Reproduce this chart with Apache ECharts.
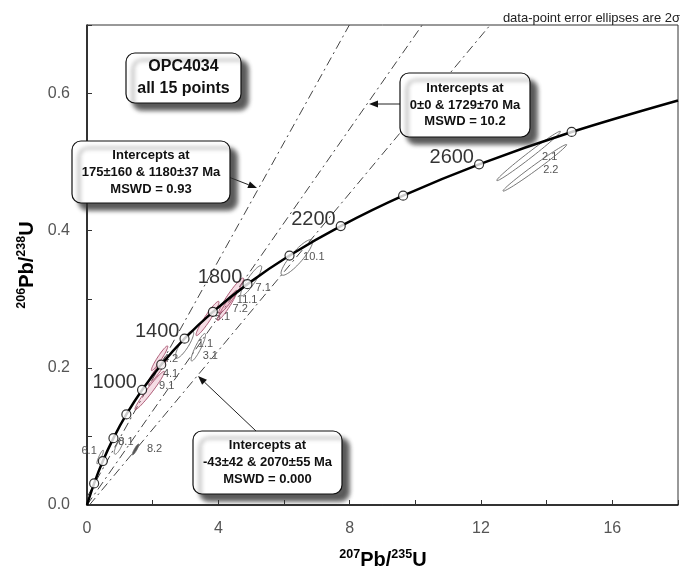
<!DOCTYPE html>
<html><head><meta charset="utf-8">
<script src="https://cdn.jsdelivr.net/npm/echarts@6/dist/echarts.min.js"></script>
<style>html,body{margin:0;padding:0;background:#fff}#c{width:681px;height:571px}</style>
</head><body><div id="c"></div>
<script>
// Concordia curve (age in Ma, 207Pb/235U, 206Pb/238U)
const concordiaAges = [0, 200, 400, 600, 800, 1000, 1200, 1400, 1600, 1800, 2000, 2200, 2400, 2600, 2800, 2990];
const concordiaX = [0, 0.2177, 0.4828, 0.8057, 1.1987, 1.6774, 2.2603, 2.9700, 3.8342, 4.8866, 6.1680, 7.7284, 9.6284, 11.942, 14.760, 18.0];
const concordiaY = [0, 0.0315, 0.0640, 0.0975, 0.1321, 0.1678, 0.2046, 0.2426, 0.2817, 0.3221, 0.3638, 0.4067, 0.4511, 0.4968, 0.5440, 0.590];
const labeledAges = [1000, 1400, 1800, 2200, 2600];

// Data-point error ellipses
const ellipseNames = ['6.1','8.1','8.2','9.1','4.1','4.2','1.1','3.1','5.1','7.2','11.1','7.1','10.1','2.1','2.2'];
const ellipseCX = [0.40, 0.97, 1.48, 1.91, 2.15, 2.21, 2.97, 3.39, 3.67, 4.27, 4.39, 5.00, 6.39, 13.45, 13.64];
const ellipseCY = [0.070, 0.086, 0.081, 0.167, 0.196, 0.214, 0.234, 0.230, 0.272, 0.291, 0.305, 0.327, 0.361, 0.509, 0.4917];
const ellipseSX = [0.10, 0.14, 0.10, 0.45, 0.30, 0.25, 0.28, 0.22, 0.35, 0.30, 0.38, 0.32, 0.48, 0.97, 0.97];
const ellipseSY = [0.010, 0.012, 0.008, 0.028, 0.020, 0.018, 0.020, 0.020, 0.025, 0.022, 0.026, 0.022, 0.026, 0.036, 0.034];
const ellipseRho = [0.90, 0.80, 0.90, 0.97, 0.95, 0.95, 0.85, 0.90, 0.95, 0.95, 0.95, 0.90, 0.88, 0.99, 0.99];

// Discordia lines (end points)
const discordiaX = [[0, 7.99], [0, 10.21], [0.074, 12.28]];
const discordiaY = [[0.0114, 0.7], [0, 0.7], [0, 0.7]];

// Styles (not data)
const ellipseKind = [0,0,2,1,1,1,0,0,1,1,1,0,0,0,0];
const labelOffsets = [[-11,-6],[7,-4],[19,0],[17,-5],[13,3],[11,1],[21,-1],[12,9],[15,-2],[13,4],[16,4],[12,7],[17,0],[21,1],[16,2]];

const FONT = "'Liberation Sans', Arial, Helvetica, sans-serif";
const chart = echarts.init(document.getElementById('c'), null, {renderer: 'canvas'});

const markerData = [];
concordiaAges.forEach((a, i) => {
  if (a > 0 && a <= 2800) markerData.push([concordiaX[i], concordiaY[i], a]);
});
const curveData = concordiaX.map((x, i) => [x, concordiaY[i]]);
const ellipseData = ellipseNames.map((n, i) => [ellipseCX[i], ellipseCY[i], ellipseSX[i], ellipseSY[i], ellipseRho[i], i]);

const lineSeries = discordiaX.map((xs, k) => ({
  type: 'line', data: [[xs[0], discordiaY[k][0]], [xs[1], discordiaY[k][1]]],
  symbol: 'none', silent: true, z: 2,
  lineStyle: {color: '#444', width: 1, type: [9, 4, 2, 4]}
}));

function box(x, y, w, h, lines, fs, lh) {
  const els = [{
    type: 'rect', shape: {x: x, y: y, width: w, height: h, r: 9},
    style: {fill: '#fff', stroke: '#111', lineWidth: 1.2,
      shadowBlur: 4, shadowOffsetX: 7, shadowOffsetY: 7, shadowColor: 'rgba(50,50,50,0.8)'}, z: 100
  }];
  const cx = x + w / 2;
  const y0 = y + h / 2 - (lines.length - 1) * lh / 2;
  lines.forEach((t, i) => {
    els.push({type: 'text', x: cx, y: y0 + i * lh, z: 101,
      style: {text: t, font: 'bold ' + fs + 'px ' + FONT, fill: '#111', align: 'center', verticalAlign: 'middle'}});
  });
  return els;
}
function arrow(x1, y1, x2, y2) {
  const dx = x2 - x1, dy = y2 - y1, L = Math.sqrt(dx * dx + dy * dy);
  const ux = dx / L, uy = dy / L, hl = 9, hw = 3.5;
  const bx = x2 - ux * hl, by = y2 - uy * hl;
  return [
    {type: 'line', shape: {x1: x1, y1: y1, x2: bx, y2: by}, style: {stroke: '#222', lineWidth: 1}, z: 99},
    {type: 'polygon', shape: {points: [[x2, y2], [bx - uy * hw, by + ux * hw], [bx + uy * hw, by - ux * hw]]}, style: {fill: '#111'}, z: 99}
  ];
}

const graphics = [].concat(
  box(126, 53, 115, 50, ['OPC4034', 'all 15 points'], 16, 22),
  box(400, 73, 130, 64, ['Intercepts at', '0\u00b10 & 1729\u00b170 Ma', 'MSWD = 10.2'], 13, 16.5),
  box(72, 141, 158, 62, ['Intercepts at', '175\u00b1160 & 1180\u00b137 Ma', 'MSWD = 0.93'], 13, 17),
  box(193, 431, 149, 63, ['Intercepts at', '-43\u00b142 & 2070\u00b155 Ma', 'MSWD = 0.000'], 13, 17),
  arrow(400, 104, 369, 104),
  arrow(226, 176, 257, 188),
  arrow(256, 431, 198, 376),
  [
    {type: 'text', x: 680, y: 18, z: 50,
      style: {text: 'data-point error ellipses are 2\u03c3', font: '13px ' + FONT, fill: '#222', align: 'right', verticalAlign: 'middle'}},
    {type: 'text', x: 383, y: 560, z: 50,
      style: {text: '{s|207}{m|Pb/}{s|235}{m|U}', align: 'center', verticalAlign: 'middle',
        rich: {s: {font: 'bold 12.5px ' + FONT, fill: '#000', verticalAlign: 'top'},
               m: {font: 'bold 20px ' + FONT, fill: '#000', lineHeight: 24}}}},
    {type: 'text', x: 27, y: 265, rotation: Math.PI / 2, z: 50,
      style: {text: '{s|206}{m|Pb/}{s|238}{m|U}', align: 'center', verticalAlign: 'middle',
        rich: {s: {font: 'bold 12.5px ' + FONT, fill: '#000', verticalAlign: 'top'},
               m: {font: 'bold 20px ' + FONT, fill: '#000', lineHeight: 24}}}}
  ]
);

const option = {
  backgroundColor: '#fff',
  animation: false,
  grid: {left: 87, right: 1, top: 25, bottom: 66, show: true, borderColor: '#333', borderWidth: 1},
  xAxis: {
    type: 'value', min: 0, max: 18, interval: 2,
    axisLine: {show: true, lineStyle: {color: '#111', width: 1.5}},
    axisTick: {show: true, inside: true, length: 5, lineStyle: {color: '#333'}},
    splitLine: {show: false},
    axisLabel: {interval: 0, margin: 16, fontSize: 16, color: '#555', fontFamily: FONT,
      formatter: v => (Math.round(v) % 4 === 0 && v < 18) ? String(Math.round(v)) : ''}
  },
  yAxis: {
    type: 'value', min: 0, max: 0.7, interval: 0.1,
    axisLine: {show: true, lineStyle: {color: '#111', width: 1.5}},
    axisTick: {show: true, inside: true, length: 5, lineStyle: {color: '#333'}},
    splitLine: {show: false},
    axisLabel: {interval: 0, margin: 17, fontSize: 16, color: '#555', fontFamily: FONT,
      formatter: v => { const k = Math.round(v * 10); return (k % 2 === 0 && k < 7) ? (k / 10).toFixed(1) : ''; }}
  },
  graphic: graphics,
  series: lineSeries.concat([
    {
      type: 'custom', z: 3, silent: true,
      data: ellipseData,
      renderItem: function (params, api) {
        const cx = api.value(0), cy = api.value(1), sx = api.value(2), sy = api.value(3), r = api.value(4), idx = api.value(5);
        const pts = [];
        const q = Math.sqrt(1 - r * r);
        for (let i = 0; i < 60; i++) {
          const t = i / 60 * 2 * Math.PI;
          pts.push(api.coord([cx + sx * Math.cos(t), cy + sy * (r * Math.cos(t) + q * Math.sin(t))]));
        }
        const kind = ellipseKind[idx];
        const c = api.coord([cx, cy]);
        const off = labelOffsets[idx];
        return {type: 'group', children: [
          {type: 'polygon', shape: {points: pts},
            style: {fill: kind === 1 ? 'rgba(220,120,150,0.25)' : (kind === 2 ? '#555' : 'rgba(255,255,255,0)'),
              stroke: kind === 1 ? '#a34a68' : '#666', lineWidth: 0.9}},
          {type: 'text', x: c[0] + off[0], y: c[1] + off[1],
            style: {text: ellipseNames[idx], font: '11px ' + FONT, fill: '#555', align: 'center', verticalAlign: 'middle'}}
        ]};
      }
    },
    {
      type: 'line', data: curveData, smooth: 0.35, symbol: 'none', z: 5, silent: true,
      lineStyle: {color: '#000', width: 2.5}
    },
    {
      type: 'scatter', data: markerData, symbol: 'circle', symbolSize: 9, z: 6, silent: true,
      itemStyle: {color: '#fff', borderColor: '#000', borderWidth: 1.2},
      label: {show: true, position: 'left', distance: 0, offset: [0, -7],
        fontSize: 20, fontFamily: FONT, color: '#000',
        formatter: p => labeledAges.indexOf(p.value[2]) >= 0 ? String(p.value[2]) : ''}
    }
  ])
};
chart.setOption(option);
</script>
</body></html>
